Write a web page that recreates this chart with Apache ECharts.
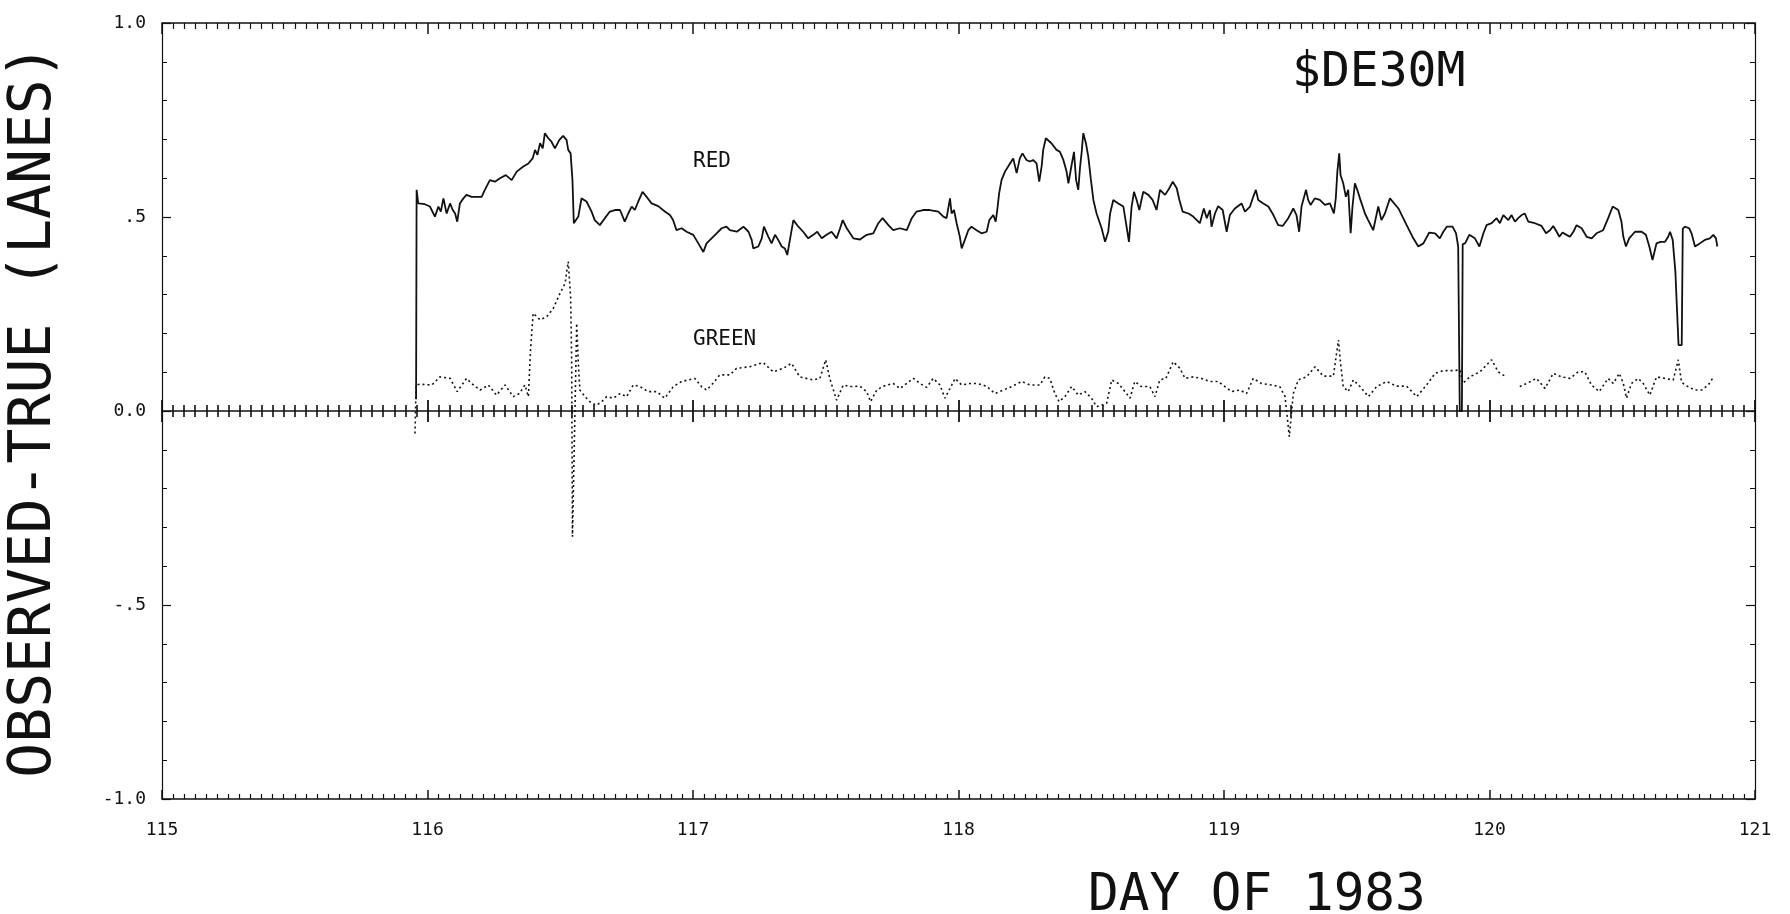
<!DOCTYPE html>
<html>
<head>
<meta charset="utf-8">
<title>$DE30M</title>
<script src="https://cdn.jsdelivr.net/npm/echarts@6/dist/echarts.min.js"></script>
<style>
  html, body { margin: 0; padding: 0; background: #fff; }
  #chart { width: 1790px; height: 914px; }
</style>
</head>
<body>
<div id="chart"></div>
<script>
// tick values and their printed labels
var dayTicks = [115, 116, 117, 118, 119, 120, 121];
var valueTicks = [-1, -0.5, 0, 0.5, 1];
var valueTickLabels = ['-1.0', '-.5', '0.0', '.5', '1.0'];

// RED: [day of 1983, observed - true (lanes)]
var redPoints = [
  [115.957, 0.03], [115.959, 0.570], [115.965, 0.535], [115.990, 0.533], [116.009, 0.527], [116.028, 0.501],
  [116.041, 0.527], [116.050, 0.514], [116.060, 0.548], [116.072, 0.509], [116.085, 0.535], [116.095, 0.518],
  [116.104, 0.509], [116.112, 0.488], [116.122, 0.535], [116.135, 0.548], [116.147, 0.557], [116.166, 0.552],
  [116.204, 0.552], [116.216, 0.570], [116.235, 0.595], [116.254, 0.591], [116.273, 0.600], [116.295, 0.608],
  [116.317, 0.595], [116.336, 0.617], [116.361, 0.630], [116.380, 0.638], [116.396, 0.651], [116.405, 0.673],
  [116.414, 0.660], [116.424, 0.690], [116.434, 0.677], [116.442, 0.716], [116.455, 0.703], [116.467, 0.694],
  [116.480, 0.677], [116.496, 0.698], [116.511, 0.709], [116.524, 0.698], [116.530, 0.673], [116.539, 0.664],
  [116.546, 0.595], [116.551, 0.484], [116.568, 0.501], [116.580, 0.548], [116.599, 0.540], [116.618, 0.514],
  [116.630, 0.492], [116.649, 0.479], [116.668, 0.497], [116.687, 0.514], [116.706, 0.518], [116.725, 0.518],
  [116.743, 0.488], [116.756, 0.509], [116.769, 0.527], [116.781, 0.518], [116.794, 0.540], [116.810, 0.565],
  [116.825, 0.552], [116.844, 0.535], [116.869, 0.528], [116.894, 0.514], [116.913, 0.505], [116.925, 0.492],
  [116.938, 0.466], [116.957, 0.471], [116.976, 0.462], [117.001, 0.454], [117.020, 0.432], [117.039, 0.410],
  [117.051, 0.432], [117.070, 0.445], [117.089, 0.458], [117.108, 0.471], [117.126, 0.475],
  [117.139, 0.466], [117.165, 0.462], [117.190, 0.475], [117.209, 0.462], [117.221, 0.441], [117.227, 0.419],
  [117.246, 0.424], [117.259, 0.445], [117.267, 0.475], [117.284, 0.449], [117.296, 0.432], [117.309, 0.454],
  [117.321, 0.441], [117.334, 0.424], [117.346, 0.419], [117.355, 0.402], [117.365, 0.441], [117.378, 0.492],
  [117.397, 0.475], [117.415, 0.462], [117.434, 0.445], [117.453, 0.454], [117.468, 0.462], [117.485, 0.445],
  [117.503, 0.454], [117.522, 0.462], [117.541, 0.445], [117.554, 0.471], [117.564, 0.492], [117.579, 0.471],
  [117.604, 0.445], [117.629, 0.442], [117.654, 0.454], [117.679, 0.458], [117.698, 0.484], [117.714, 0.497],
  [117.736, 0.479], [117.754, 0.466], [117.779, 0.471], [117.805, 0.466], [117.824, 0.497], [117.842, 0.514],
  [117.867, 0.518], [117.892, 0.518], [117.924, 0.514], [117.943, 0.501], [117.955, 0.497], [117.968, 0.548],
  [117.974, 0.509], [117.983, 0.518], [117.993, 0.484], [118.005, 0.449], [118.012, 0.419], [118.024, 0.441],
  [118.037, 0.466], [118.049, 0.475], [118.068, 0.466], [118.087, 0.458], [118.106, 0.462], [118.116, 0.492],
  [118.131, 0.505], [118.140, 0.488], [118.146, 0.518], [118.153, 0.561], [118.162, 0.595], [118.175, 0.617],
  [118.194, 0.638], [118.206, 0.651], [118.219, 0.613], [118.231, 0.651], [118.241, 0.664], [118.256, 0.647],
  [118.269, 0.643], [118.281, 0.647], [118.294, 0.638], [118.304, 0.591], [118.313, 0.630], [118.319, 0.673],
  [118.329, 0.703], [118.350, 0.690], [118.369, 0.673],
  [118.382, 0.668], [118.395, 0.647], [118.407, 0.617], [118.414, 0.587], [118.426, 0.634], [118.435, 0.668],
  [118.443, 0.595], [118.451, 0.570], [118.458, 0.630], [118.464, 0.668], [118.470, 0.716], [118.480, 0.690],
  [118.489, 0.655], [118.498, 0.600], [118.508, 0.544], [118.520, 0.509], [118.539, 0.471], [118.552, 0.436],
  [118.564, 0.462], [118.571, 0.509], [118.583, 0.544], [118.602, 0.535], [118.621, 0.527], [118.633, 0.475],
  [118.642, 0.436], [118.652, 0.527], [118.661, 0.565], [118.671, 0.544], [118.681, 0.518], [118.696, 0.565],
  [118.715, 0.557], [118.731, 0.544], [118.746, 0.518], [118.759, 0.570], [118.778, 0.557], [118.794, 0.574],
  [118.807, 0.591], [118.822, 0.574], [118.832, 0.544], [118.844, 0.514], [118.866, 0.509], [118.884, 0.501],
  [118.909, 0.484], [118.924, 0.522], [118.935, 0.497], [118.947, 0.518], [118.953, 0.475], [118.966, 0.509],
  [118.978, 0.528], [118.995, 0.518], [119.010, 0.462], [119.022, 0.505], [119.041, 0.522], [119.066, 0.535],
  [119.079, 0.514], [119.098, 0.527], [119.110, 0.552], [119.120, 0.570], [119.129, 0.544], [119.148, 0.535],
  [119.167, 0.527], [119.186, 0.505], [119.204, 0.479], [119.221, 0.477], [119.242, 0.497], [119.261, 0.522],
  [119.273, 0.505], [119.283, 0.462], [119.292, 0.527], [119.309, 0.570], [119.317, 0.544], [119.326, 0.531],
  [119.342, 0.548], [119.361, 0.544], [119.380, 0.531], [119.399, 0.535], [119.414, 0.509], [119.421, 0.548],
  [119.427, 0.617], [119.434, 0.664], [119.439, 0.608], [119.449, 0.587], [119.459, 0.552], [119.468, 0.570],
  [119.477, 0.458], [119.484, 0.527], [119.493, 0.587], [119.502, 0.570], [119.512, 0.548], [119.531, 0.509],
  [119.543, 0.492], [119.562, 0.466], [119.581, 0.527], [119.593, 0.492], [119.606, 0.509],
  [119.625, 0.548], [119.657, 0.522], [119.688, 0.479], [119.713, 0.445], [119.732, 0.424], [119.751, 0.432],
  [119.773, 0.460], [119.795, 0.458], [119.813, 0.445], [119.826, 0.462], [119.839, 0.475], [119.861, 0.475],
  [119.874, 0.458], [119.882, 0.424], [119.888, 0.0], [119.896, 0.0], [119.899, 0.43], [119.908, 0.432],
  [119.924, 0.454], [119.945, 0.445], [119.962, 0.424], [119.977, 0.458], [119.989, 0.479], [120.008, 0.484],
  [120.027, 0.497], [120.039, 0.484], [120.052, 0.505], [120.071, 0.492], [120.083, 0.505], [120.096, 0.488],
  [120.108, 0.497], [120.121, 0.505], [120.133, 0.509], [120.146, 0.488], [120.171, 0.484], [120.196, 0.477],
  [120.213, 0.458], [120.228, 0.466], [120.240, 0.477], [120.253, 0.462], [120.263, 0.449], [120.275, 0.460],
  [120.290, 0.454], [120.303, 0.449], [120.316, 0.462], [120.328, 0.479], [120.347, 0.471], [120.366, 0.449],
  [120.385, 0.445], [120.403, 0.458], [120.428, 0.466], [120.447, 0.497], [120.464, 0.527], [120.485, 0.518],
  [120.497, 0.488], [120.504, 0.449], [120.514, 0.424], [120.526, 0.445], [120.548, 0.462], [120.573, 0.462],
  [120.589, 0.454], [120.602, 0.424], [120.614, 0.389], [120.629, 0.432], [120.644, 0.436], [120.661, 0.436],
  [120.673, 0.449], [120.680, 0.462], [120.690, 0.441], [120.700, 0.36], [120.712, 0.17], [120.724, 0.17],
  [120.728, 0.47], [120.736, 0.475], [120.752, 0.471], [120.761, 0.458], [120.774, 0.424], [120.792, 0.432],
  [120.811, 0.441], [120.830, 0.445], [120.843, 0.454], [120.853, 0.445], [120.858, 0.424]
];

// GREEN: [day of 1983, observed - true (lanes)], null = no data
var greenPoints = [
  [115.953, -0.058], [115.957, 0.067], [115.972, 0.069], [116.016, 0.067], [116.047, 0.088], [116.085, 0.084],
  [116.112, 0.050], [116.147, 0.084], [116.166, 0.071], [116.198, 0.054], [116.229, 0.067], [116.260, 0.041],
  [116.292, 0.067], [116.323, 0.037], [116.346, 0.045], [116.367, 0.067], [116.380, 0.037], [116.388, 0.157],
  [116.398, 0.252], [116.424, 0.235], [116.449, 0.243], [116.474, 0.265], [116.499, 0.303], [116.518, 0.329],
  [116.530, 0.385], [116.539, 0.295], [116.543, 0.132], [116.546, -0.324], [116.555, -0.014], [116.562, 0.226],
  [116.568, 0.123], [116.574, 0.054], [116.593, 0.037], [116.618, 0.020], [116.637, 0.015], [116.656, 0.024],
  [116.675, 0.037], [116.700, 0.033], [116.725, 0.045], [116.750, 0.037], [116.775, 0.067], [116.800, 0.063],
  [116.831, 0.050], [116.863, 0.050], [116.894, 0.033], [116.926, 0.063], [116.957, 0.076], [117.007, 0.084],
  [117.032, 0.063], [117.051, 0.054], [117.070, 0.067], [117.101, 0.093], [117.139, 0.093], [117.164, 0.110],
  [117.214, 0.114], [117.264, 0.125], [117.302, 0.101], [117.340, 0.110], [117.371, 0.123], [117.402, 0.088],
  [117.453, 0.080], [117.478, 0.084], [117.500, 0.132], [117.515, 0.084], [117.541, 0.028], [117.566, 0.067],
  [117.591, 0.063], [117.629, 0.064], [117.654, 0.050], [117.669, 0.024], [117.692, 0.054], [117.717, 0.064],
  [117.754, 0.071], [117.780, 0.058], [117.805, 0.071], [117.830, 0.084], [117.855, 0.071], [117.880, 0.061],
  [117.905, 0.084], [117.930, 0.067], [117.949, 0.033], [117.968, 0.058], [117.987, 0.084], [118.012, 0.067],
  [118.043, 0.071], [118.068, 0.071], [118.106, 0.064], [118.137, 0.045], [118.169, 0.054], [118.200, 0.063],
  [118.238, 0.076], [118.269, 0.067], [118.307, 0.067], [118.325, 0.088], [118.344, 0.084], [118.363, 0.045],
  [118.379, 0.024], [118.401, 0.037], [118.426, 0.063], [118.451, 0.041], [118.476, 0.050], [118.501, 0.033],
  [118.520, 0.011], [118.539, 0.015], [118.558, 0.020], [118.577, 0.080], [118.602, 0.071], [118.627, 0.050],
  [118.646, 0.033], [118.664, 0.076], [118.689, 0.063], [118.721, 0.063], [118.740, 0.037], [118.758, 0.080],
  [118.781, 0.084], [118.809, 0.127], [118.834, 0.110], [118.853, 0.084], [118.884, 0.088], [118.915, 0.084],
  [118.947, 0.076], [118.978, 0.076], [119.003, 0.063], [119.028, 0.050], [119.060, 0.054], [119.085, 0.045],
  [119.110, 0.084], [119.141, 0.071], [119.179, 0.067], [119.210, 0.063], [119.230, 0.037], [119.246, -0.066],
  [119.261, 0.045], [119.280, 0.080], [119.311, 0.088], [119.343, 0.114], [119.374, 0.090], [119.412, 0.090],
  [119.431, 0.183], [119.439, 0.123], [119.449, 0.063], [119.468, 0.050], [119.487, 0.080], [119.512, 0.063],
  [119.544, 0.037], [119.575, 0.063], [119.613, 0.076], [119.650, 0.064], [119.688, 0.064], [119.726, 0.037],
  [119.763, 0.067], [119.795, 0.097], [119.826, 0.104], [119.864, 0.104], [119.889, 0.106], [119.899, 0.071],
  [119.926, 0.088], [119.964, 0.101], [120.008, 0.132], [120.033, 0.101], [120.058, 0.090], [120.086, null],
  [120.114, 0.063], [120.146, 0.073], [120.177, 0.084], [120.209, 0.058], [120.240, 0.097], [120.272, 0.088],
  [120.303, 0.084], [120.334, 0.101], [120.359, 0.101], [120.384, 0.067], [120.413, 0.050], [120.447, 0.084],
  [120.466, 0.071], [120.489, 0.097], [120.504, 0.071], [120.516, 0.033], [120.535, 0.071], [120.560, 0.084],
  [120.579, 0.071], [120.604, 0.041], [120.629, 0.088], [120.660, 0.084], [120.692, 0.080], [120.711, 0.132],
  [120.723, 0.075], [120.736, 0.067], [120.773, 0.054], [120.799, 0.054], [120.824, 0.067], [120.843, 0.087]
];

// where the two series names are written (data coords)
var redLabelAt = [117.0, 0.644];
var greenLabelAt = [117.0, 0.185];

var FONT = '"DejaVu Sans Mono", monospace';
var INK = '#111';

var chart = echarts.init(document.getElementById('chart'));

// x axis used several times: bottom, top and the 0.0 line
function dayAxis(extra) {
  var base = {
    type: 'value',
    min: dayTicks[0],
    max: dayTicks[dayTicks.length - 1],
    interval: 1,
    splitLine: { show: false },
    axisLine: { show: true, onZero: false, lineStyle: { color: INK, width: 1.6 } },
    axisTick: { show: true, inside: true, length: 9, lineStyle: { color: INK, width: 1.5 } },
    minorTick: { show: true, splitNumber: 24, length: 5, lineStyle: { color: INK, width: 1.2 } },
    axisLabel: { show: false }
  };
  return Object.assign(base, extra);
}

function valueAxis(extra) {
  var base = {
    type: 'value',
    min: valueTicks[0],
    max: valueTicks[valueTicks.length - 1],
    interval: 0.5,
    splitLine: { show: false },
    axisLine: { show: true, onZero: false, lineStyle: { color: INK, width: 1.2 } },
    axisTick: { show: true, inside: true, length: 9, lineStyle: { color: INK, width: 1.2 } },
    minorTick: { show: true, splitNumber: 5, length: 5, lineStyle: { color: INK, width: 1 } },
    axisLabel: { show: false }
  };
  return Object.assign(base, extra);
}

var option = {
  animation: false,
  backgroundColor: '#fff',
  title: {
    text: '$DE30M',
    left: 1292,
    top: 50,
    padding: 0,
    textStyle: { fontFamily: FONT, fontSize: 48, fontWeight: 'normal', color: INK }
  },
  grid: {
    left: 162,
    right: 35,
    top: 23,
    bottom: 115,
    containLabel: false,
    outerBoundsMode: 'none'
  },
  xAxis: [
    dayAxis({
      position: 'bottom',
      axisLabel: {
        show: true,
        margin: 22,
        color: INK,
        fontFamily: FONT,
        fontSize: 18,
        formatter: function (v) { return String(v) }
      }
    }),
    dayAxis({
      position: 'top',
      axisTick: { show: true, inside: true, length: 11, lineStyle: { color: INK, width: 1.5 } },
      minorTick: { show: true, splitNumber: 24, length: 6, lineStyle: { color: INK, width: 1.2 } }
    }),
    // 0.0 line, ticks up
    dayAxis({
      position: 'bottom',
      offset: -388,
      axisTick: { show: true, inside: true, length: 11, lineStyle: { color: INK, width: 1.8 } },
      minorTick: { show: true, splitNumber: 24, length: 6, lineStyle: { color: INK, width: 1.6 } }
    }),
    // 0.0 line, ticks down -> crosses
    dayAxis({
      position: 'bottom',
      offset: -388,
      axisLine: { show: false, onZero: false },
      axisTick: { show: true, inside: false, length: 11, lineStyle: { color: INK, width: 1.8 } },
      minorTick: { show: true, splitNumber: 24, length: 6, lineStyle: { color: INK, width: 1.6 } }
    })
  ],
  yAxis: [
    valueAxis({
      position: 'left',
      axisLabel: {
        show: true,
        margin: 16,
        color: INK,
        fontFamily: FONT,
        fontSize: 18,
        formatter: function (v) {
          var i = valueTicks.indexOf(Math.round(v * 10) / 10);
          return i >= 0 ? valueTickLabels[i] : '';
        }
      },
      name: 'OBSERVED-TRUE (LANES)',
      nameLocation: 'middle',
      nameRotate: 90,
      nameGap: 98,
      nameTextStyle: { fontFamily: FONT, fontSize: 58, color: INK }
    }),
    valueAxis({ position: 'right' })
  ],
  graphic: [
    {
      type: 'text',
      left: 1088,
      top: 871,
      style: { text: 'DAY OF 1983', font: '51px ' + FONT, fill: INK }
    }
  ],
  series: [
    {
      name: 'RED',
      type: 'line',
      data: redPoints,
      showSymbol: false,
      symbol: 'none',
      lineStyle: { color: INK, width: 1.8 },
      z: 3,
      markPoint: {
        symbol: 'circle',
        symbolSize: 0,
        silent: true,
        label: {
          show: true, position: 'right', distance: 0, formatter: 'RED',
          color: INK, fontFamily: FONT, fontSize: 21
        },
        data: [{ coord: redLabelAt }]
      }
    },
    {
      name: 'GREEN',
      type: 'line',
      data: greenPoints,
      showSymbol: false,
      symbol: 'none',
      connectNulls: false,
      lineStyle: { color: INK, width: 1.6, type: [2, 3] },
      z: 2,
      markPoint: {
        symbol: 'circle',
        symbolSize: 0,
        silent: true,
        label: {
          show: true, position: 'right', distance: 0, formatter: 'GREEN',
          color: INK, fontFamily: FONT, fontSize: 21
        },
        data: [{ coord: greenLabelAt }]
      }
    }
  ]
};

chart.setOption(option);
</script>
</body>
</html>
